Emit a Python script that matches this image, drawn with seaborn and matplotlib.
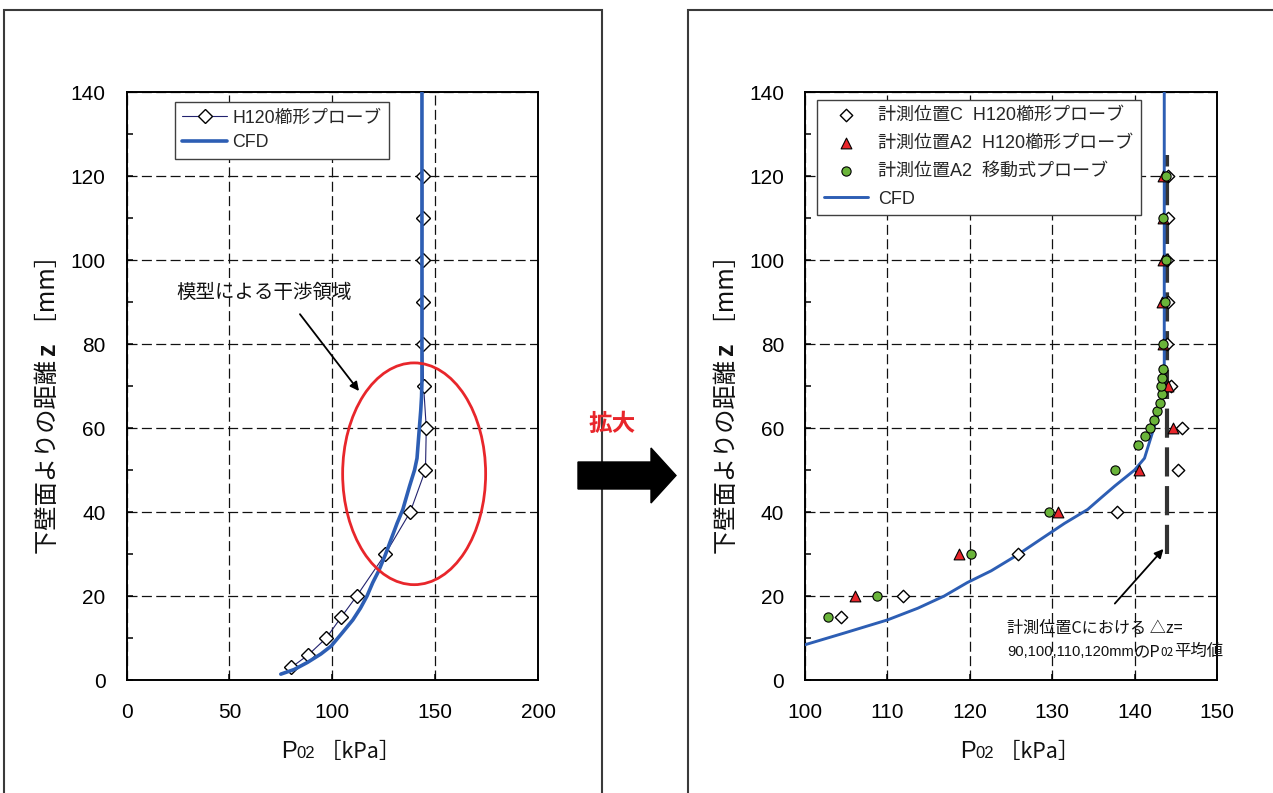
import numpy as np
import matplotlib
matplotlib.use("Agg")
import matplotlib.pyplot as plt
import seaborn as sns
from matplotlib.patches import Rectangle, Ellipse, FancyArrow
from matplotlib.ticker import MultipleLocator
from matplotlib.transforms import IdentityTransform

# ---- measured total pressure profiles (z in mm, P02 in kPa) ----
# position C, H120 comb probe
c_z = [3, 6, 10, 15, 20, 30, 40, 50, 60, 70, 80, 90, 100, 110, 120]
c_p = [80.1, 88.4, 97.1, 104.4, 111.9, 125.8, 137.9, 145.3, 145.7, 144.4, 143.9, 144.0, 143.9, 144.0, 144.0]

# position A2, H120 comb probe
a2_comb_z = [20, 30, 40, 50, 60, 70, 80, 90, 100, 110, 120]
a2_comb_p = [106.1, 118.7, 130.7, 140.5, 144.7, 144.0, 143.5, 143.3, 143.4, 143.5, 143.5]

# position A2, traversing probe
a2_trav_z = [15, 20, 30, 40, 50, 56, 58, 60, 62, 64, 66, 68, 70, 72, 74, 80, 90, 100, 110, 120]
a2_trav_p = [102.8, 108.7, 120.2, 129.6, 137.6, 140.4, 141.3, 141.9, 142.4, 142.7, 143.1, 143.3,
             143.2, 143.3, 143.4, 143.5, 143.7, 143.8, 143.5, 143.8]

# CFD profile
cfd_z = [1.4, 2.5, 4.2, 6.2, 8.1, 11.2, 14.3, 17.1, 20.0, 23.2, 26.0, 29.8, 33.5, 37.3, 40.6,
         43.5, 46.2, 50.0, 52.8, 56.6, 60.4, 64.1, 67.4, 71.2, 140.0]
cfd_p = [75.0, 81.5, 88.0, 94.5, 99.5, 104.8, 110.0, 113.7, 116.9, 119.7, 122.6, 125.8, 128.6,
         131.5, 134.3, 136.0, 137.6, 140.0, 141.2, 141.8, 142.4, 143.0, 143.4, 143.6, 143.6]

# heights averaged for the reference value at position C
avg_heights = [90, 100, 110, 120]

lbl_comb_left = "H120櫛形プローブ"
lbl_c = "計測位置C  H120櫛形プローブ"
lbl_a2_comb = "計測位置A2  H120櫛形プローブ"
lbl_a2_trav = "計測位置A2  移動式プローブ"
lbl_cfd = "CFD"

# ---- style ----
sns.set_theme(style="white")
plt.rcParams["font.family"] = ["Liberation Sans", "Noto Sans CJK JP"]
plt.rcParams["axes.unicode_minus"] = False

W, H = 1273, 793
fig = plt.figure(figsize=(W / 100, H / 100), dpi=100)
fig.patch.set_facecolor("white")


def fx(px):
    return px / W


def fy(py):
    return 1 - py / H


BLUE = "#2d5eb4"
RED = "#e8262b"
GREEN = "#6ab43a"

ax1 = fig.add_axes([fx(126.5), fy(680), (538 - 126.5) / W, (680 - 92) / H])
ax2 = fig.add_axes([fx(805), fy(680), (1217 - 805) / W, (680 - 92) / H])


def style_axes(ax, xlim, xstep):
    ax.set_xlim(*xlim)
    ax.set_ylim(0, 140)
    ax.xaxis.set_major_locator(MultipleLocator(xstep))
    ax.yaxis.set_major_locator(MultipleLocator(20))
    ax.yaxis.set_minor_locator(MultipleLocator(10))
    ax.tick_params(which="both", direction="in", length=4.5, width=1.1, color="black",
                   left=True, bottom=True, top=False, right=False)
    ax.tick_params(which="major", labelsize=15, labelcolor="black")
    ax.tick_params(axis="y", which="major", pad=15)
    ax.tick_params(axis="x", which="major", pad=16.5)
    for s in ax.spines.values():
        s.set_visible(True)
        s.set_color("black")
        s.set_linewidth(1.4)
    ax.grid(True, which="major", color="#111111", lw=0.9, ls=(0, (8, 3.5)))
    ax.set_axisbelow(True)
    ax.set_xlabel("")
    ax.set_ylabel("")


# ---- left panel: full range ----
sns.lineplot(x=c_p, y=c_z, orient="y", estimator=None, sort=False, ax=ax1,
             color="#22226e", lw=0.8, marker="D", markersize=7.6,
             markerfacecolor="white", markeredgecolor="black", markeredgewidth=1.0,
             label=lbl_comb_left, zorder=3)
sns.lineplot(x=cfd_p, y=cfd_z, orient="y", estimator=None, sort=False, ax=ax1,
             color=BLUE, lw=2.6, label=lbl_cfd, zorder=4)
style_axes(ax1, (0, 200), 50)
ax1.add_patch(Ellipse((139.8, 49.1), width=69.5, height=52.8, fill=False,
                      ec=RED, lw=2.0, zorder=6))
ax1.annotate("", xy=(113.0, 68.8), xytext=(84.3, 87.1),
             arrowprops=dict(arrowstyle="-|>", color="black", lw=1.3,
                             mutation_scale=13, shrinkA=0, shrinkB=0), zorder=6)
ax1.text(24.1, 92.1, "模型による干渉領域", fontsize=14, va="center", ha="left",
         color="#111111", zorder=6)
leg1 = ax1.legend(loc="upper left", bbox_to_anchor=(fx(175), fy(102)),
                  bbox_transform=fig.transFigure, borderaxespad=0, fontsize=12.8,
                  frameon=True, fancybox=False, framealpha=1, edgecolor="#404040",
                  handlelength=2.5, handletextpad=0.3, borderpad=0.42, labelspacing=0.45)
leg1.get_frame().set_linewidth(1.0)
leg1.set_zorder(10)

# ---- right panel: enlarged ----
c_mean = float(np.mean([p for z, p in zip(c_z, c_p) if z in avg_heights]))
ax2.plot([c_mean, c_mean], [30, 125], color="#333333", lw=3.0, ls=(0, (7, 2.3)), zorder=2)
sns.lineplot(x=cfd_p, y=cfd_z, orient="y", estimator=None, sort=False, ax=ax2,
             color=BLUE, lw=2.1, label=lbl_cfd, zorder=3)
sns.scatterplot(x=c_p, y=c_z, ax=ax2, marker="D", s=40, color="white",
                edgecolor="black", linewidth=1.0, label=lbl_c, zorder=4)
sns.scatterplot(x=a2_comb_p, y=a2_comb_z, ax=ax2, marker="^", s=60, color=RED,
                edgecolor="black", linewidth=0.8, label=lbl_a2_comb, zorder=5)
sns.scatterplot(x=a2_trav_p, y=a2_trav_z, ax=ax2, marker="o", s=44, color=GREEN,
                edgecolor="black", linewidth=0.8, label=lbl_a2_trav, zorder=6)
style_axes(ax2, (100, 150), 10)
for coll in ax2.collections:
    coll.set_clip_on(True)

handles, labels = ax2.get_legend_handles_labels()
order = [lbl_c, lbl_a2_comb, lbl_a2_trav, lbl_cfd]
hmap = dict(zip(labels, handles))
leg2 = ax2.legend([hmap[k] for k in order], order, loc="upper left",
                  bbox_to_anchor=(fx(817), fy(100)), bbox_transform=fig.transFigure,
                  borderaxespad=0, fontsize=13, frameon=True, fancybox=False,
                  framealpha=1, edgecolor="#404040", handlelength=2.4,
                  handletextpad=0.6, borderpad=0.4, labelspacing=0.6)
leg2.get_frame().set_linewidth(1.0)
leg2.set_zorder(10)

ax2.annotate("", xy=(143.5, 31.2), xytext=(137.6, 18.2),
             arrowprops=dict(arrowstyle="-|>", color="black", lw=1.3,
                             mutation_scale=13, shrinkA=0, shrinkB=0), zorder=7)


# ---- text made of runs with different sizes / weights ----
def draw_runs(x, y, runs, rotation=0, ha="left"):
    """Draw text pieces on one shared baseline; x, y are pixels from the top-left."""
    r = fig.canvas.get_renderer()
    arts = []
    for s, kw in runs:
        t = fig.text(0, 0, s, rotation=rotation, rotation_mode="anchor", ha="left",
                     va="baseline", transform=IdentityTransform(), color="#111111", **kw)
        arts.append(t)
    lengths = []
    for t in arts:
        bb = t.get_window_extent(r)
        lengths.append(bb.height if rotation == 90 else bb.width)
    total = sum(lengths)
    pos = {"left": 0.0, "center": -total / 2, "right": -total}[ha]
    for t, L in zip(arts, lengths):
        if rotation == 90:
            t.set_position((x, H - y + pos))
        else:
            t.set_position((x + pos, H - y))
        pos += L


cjk = ["Noto Sans CJK JP", "Liberation Sans"]
for dx in (0, 805 - 126.5):
    # y axis label
    draw_runs(55 + dx, 399, [("下壁面よりの距離 ", dict(fontsize=17.5, family=cjk)),
                             ("z", dict(fontsize=18, family="Liberation Sans", weight="bold")),
                             (" ［mm］", dict(fontsize=17.5, family=cjk))],
              rotation=90, ha="center")
    # x axis label
    draw_runs(341 + dx, 758, [("P", dict(fontsize=17)),
                              ("02", dict(fontsize=12)),
                              (" ［kPa］", dict(fontsize=15.5, family=cjk))], ha="center")

# note for the averaged value at position C
draw_runs(1007, 633, [("計測位置Cにおける △z=", dict(fontsize=11.6, family=cjk))])
draw_runs(1007, 656, [("90,100,110,120mm", dict(fontsize=10.6)),
                      ("のP", dict(fontsize=11.8, family=cjk)),
                      ("02", dict(fontsize=8.5, family=cjk)),
                      ("平均値", dict(fontsize=11.8, family=cjk))])

# ---- panel frames, enlargement arrow ----
for x0, x1 in ((4, 602), (688, 1290)):
    fig.add_artist(Rectangle((fx(x0), fy(820)), (x1 - x0) / W, (820 - 9.5) / H,
                             transform=fig.transFigure, fill=False, ec="#3a3a3a", lw=1.5))

fig.add_artist(FancyArrow(578, H - 475.5, 98, 0, width=27, head_width=55, head_length=25,
                          length_includes_head=True, color="black",
                          transform=IdentityTransform()))
fig.text(fx(612), fy(424), "拡大", color=RED, fontsize=17, weight="bold",
         ha="center", va="center", family=cjk)

fig.savefig("out.png", dpi=100, facecolor="white")
